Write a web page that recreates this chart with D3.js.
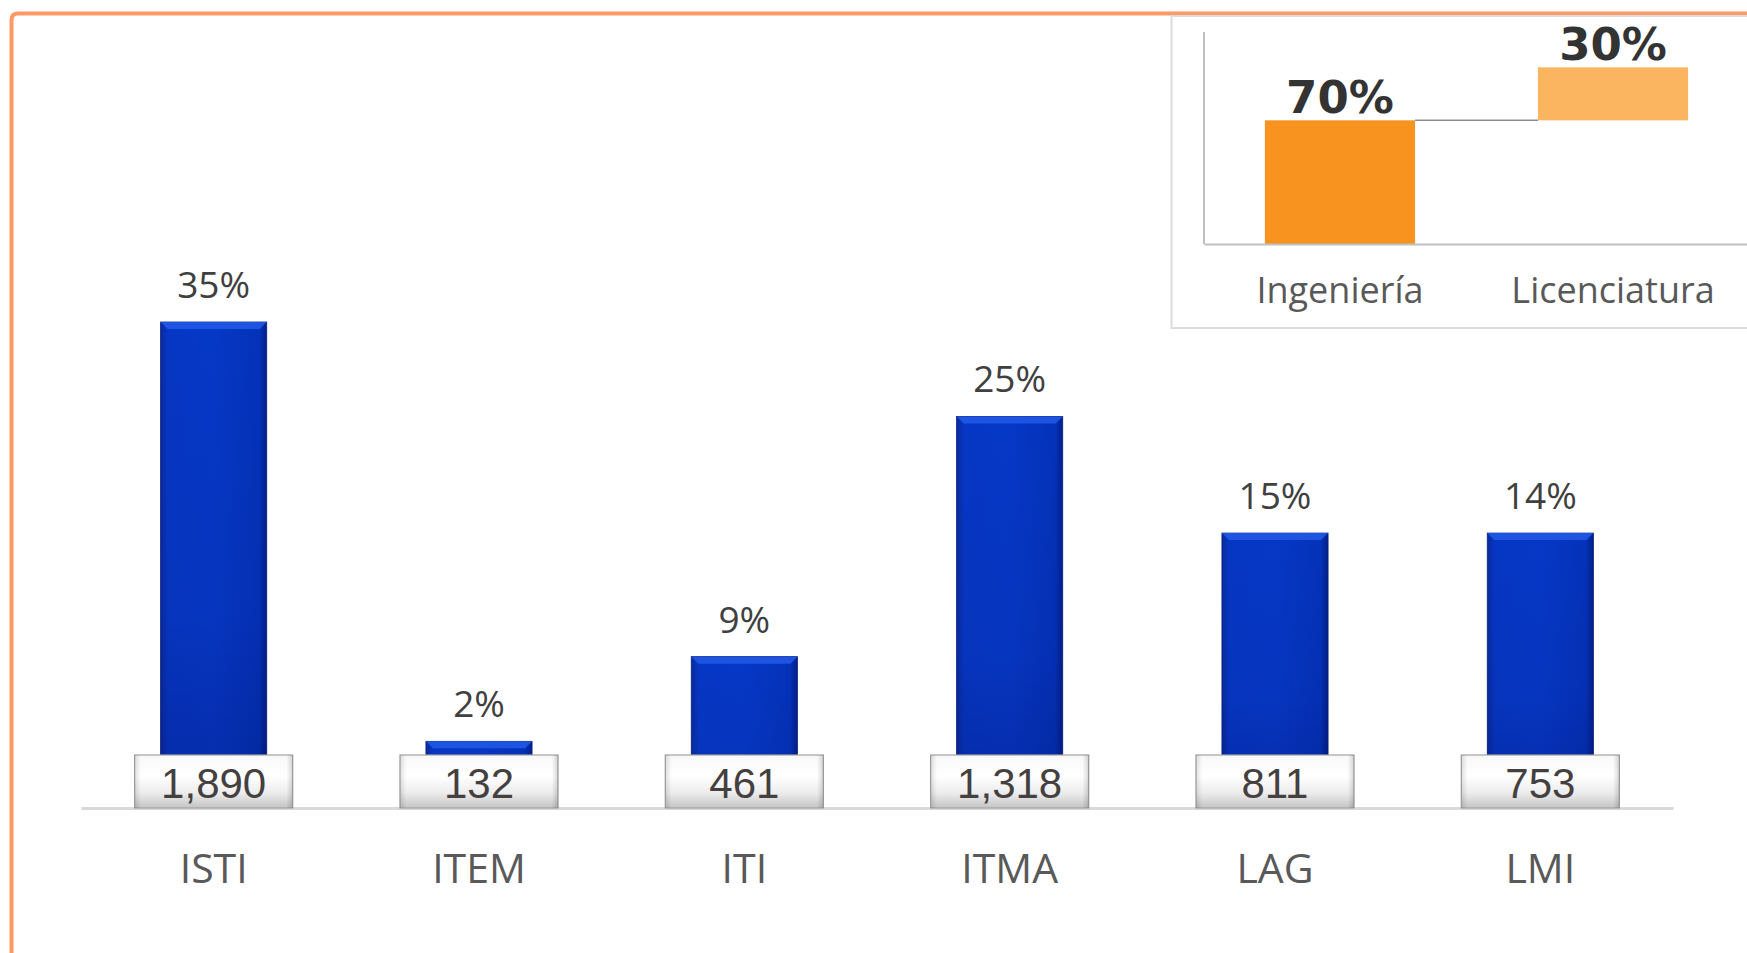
<!DOCTYPE html>
<html>
<head>
<meta charset="utf-8">
<script src="https://cdn.jsdelivr.net/npm/d3@7"></script>
<style>
  html, body { margin: 0; padding: 0; background: #ffffff; }
  svg { display: block; }
</style>
</head>
<body>
<svg id="chart" width="1747" height="953"></svg>
<script>
// ---------- data ----------
const categories = ["ISTI", "ITEM", "ITI", "ITMA", "LAG", "LMI"];
const students = [1890, 132, 461, 1318, 811, 753];
const shareLabels = ["35%", "2%", "9%", "25%", "15%", "14%"];
// bar lengths as drawn in the picture (percent-like units)
const barLengths = [35, 4.8, 10.9, 28.2, 19.8, 19.8];

const typeNames = ["Ingeniería", "Licenciatura"];
const typeShares = [70, 30];
const typeLabels = ["70%", "30%"];

// ---------- setup ----------
const svg = d3.select("#chart");
const defs = svg.append("defs");

const barGrad = defs.append("linearGradient").attr("id", "barGrad")
  .attr("x1", "0%").attr("x2", "100%").attr("y1", "0%").attr("y2", "0%");
[["0%", "#0a2a9c"], ["7%", "#0637c4"], ["50%", "#0638c6"], ["93%", "#0432b9"], ["100%", "#031f88"]]
  .forEach(([o, c]) => barGrad.append("stop").attr("offset", o).attr("stop-color", c));

const barShade = defs.append("linearGradient").attr("id", "barShade")
  .attr("x1", "0%").attr("x2", "0%").attr("y1", "0%").attr("y2", "100%");
[["0%", "rgba(0,0,60,0)"], ["60%", "rgba(0,0,60,0.05)"], ["100%", "rgba(0,0,60,0.22)"]]
  .forEach(([o, c]) => barShade.append("stop").attr("offset", o).attr("stop-color", c));

const boxGrad = defs.append("linearGradient").attr("id", "boxGrad")
  .attr("x1", "0%").attr("x2", "0%").attr("y1", "0%").attr("y2", "100%");
[["0%", "#f8f8f8"], ["40%", "#ffffff"], ["72%", "#ececec"], ["100%", "#c4c4c4"]]
  .forEach(([o, c]) => boxGrad.append("stop").attr("offset", o).attr("stop-color", c));

const boxSide = defs.append("linearGradient").attr("id", "boxSide")
  .attr("x1", "0%").attr("x2", "100%").attr("y1", "0%").attr("y2", "0%");
[["0%", "rgba(0,0,0,0.12)"], ["4%", "rgba(0,0,0,0)"], ["96%", "rgba(0,0,0,0)"], ["100%", "rgba(0,0,0,0.16)"]]
  .forEach(([o, c]) => boxSide.append("stop").attr("offset", o).attr("stop-color", c));

// ---------- orange frame ----------
svg.append("path")
  .attr("d", "M11.5,953 L11.5,20 Q11.5,13.5 18,13.5 L1747,13.5")
  .attr("fill", "none").attr("stroke", "#ff9a66").attr("stroke-width", 4);

// ---------- main chart ----------
const x = d3.scaleBand().domain(categories).range([81, 1673])
  .paddingInner(0.6).paddingOuter(0.3);
const y = d3.scaleLinear().domain([0, 35]).range([808, 322]);

const data = categories.map((c, i) => ({
  cat: c, n: students[i], pct: shareLabels[i], len: barLengths[i]
}));

const bw = x.bandwidth();

// bars
const bars = svg.append("g");
bars.selectAll("rect.bar").data(data).join("rect")
  .attr("class", "bar")
  .attr("x", d => x(d.cat)).attr("y", d => y(d.len))
  .attr("width", bw).attr("height", d => y(0) - y(d.len))
  .attr("fill", "url(#barGrad)")
  .attr("stroke", "#0a1f80").attr("stroke-width", 0.8);
bars.selectAll("rect.shade").data(data).join("rect")
  .attr("class", "shade")
  .attr("x", d => x(d.cat)).attr("y", d => y(d.len))
  .attr("width", bw).attr("height", d => y(0) - y(d.len))
  .attr("fill", "url(#barShade)");
// top bevel
bars.selectAll("path.bevel").data(data).join("path")
  .attr("class", "bevel")
  .attr("d", d => {
    const x0 = x(d.cat), x1 = x0 + bw, t = y(d.len), b = 7;
    return `M${x0},${t} L${x1},${t} L${x1 - b},${t + b} L${x0 + b},${t + b} Z`;
  })
  .attr("fill", "#2158e6").attr("opacity", 0.9);

// axis
const xAxis = d3.axisBottom(x).tickSize(0).tickPadding(46);
const ax = svg.append("g").attr("transform", `translate(0,${y(0)})`).call(xAxis);
ax.select(".domain").attr("stroke", "#d9d9d9").attr("stroke-width", 3);
ax.selectAll("text")
  .attr("font-family", "'Open Sans', 'Noto Sans', sans-serif")
  .attr("font-size", 41).attr("fill", "#595959");

// value boxes
const boxW = x.step() * 0.596, boxH = 53;
const boxes = svg.append("g");
boxes.selectAll("rect.box").data(data).join("rect")
  .attr("class", "box")
  .attr("x", d => x(d.cat) + bw / 2 - boxW / 2).attr("y", y(0) - boxH)
  .attr("width", boxW).attr("height", boxH)
  .attr("fill", "url(#boxGrad)").attr("stroke", "#a3a3a3").attr("stroke-width", 1.2);
boxes.selectAll("rect.side").data(data).join("rect")
  .attr("class", "side")
  .attr("x", d => x(d.cat) + bw / 2 - boxW / 2).attr("y", y(0) - boxH)
  .attr("width", boxW).attr("height", boxH)
  .attr("fill", "url(#boxSide)");
boxes.selectAll("text").data(data).join("text")
  .attr("x", d => x(d.cat) + bw / 2).attr("y", y(0) - 10)
  .attr("text-anchor", "middle")
  .attr("font-family", "'Liberation Sans', Arial, sans-serif")
  .attr("font-size", 42).attr("fill", "#454040")
  .text(d => d3.format(",")(d.n));

// percent labels
svg.append("g").selectAll("text").data(data).join("text")
  .attr("x", d => x(d.cat) + bw / 2).attr("y", d => y(d.len) - 24)
  .attr("text-anchor", "middle")
  .attr("font-family", "'Open Sans', 'Noto Sans', sans-serif")
  .attr("font-size", 37).attr("fill", "#404040")
  .text(d => d.pct);

// ---------- inset waterfall ----------
const inset = svg.append("g");
inset.append("rect")
  .attr("x", 1171.5).attr("y", 16).attr("width", 600).attr("height", 312)
  .attr("fill", "#ffffff").attr("stroke", "#dcdcdc").attr("stroke-width", 2);

const ix = d3.scaleBand().domain(typeNames).range([1204, 1749])
  .paddingInner(0.45).paddingOuter(0.223);
const iy = d3.scaleLinear().domain([0, 120]).range([244, 32]);

let cum = 0;
const steps = typeNames.map((n, i) => {
  const s = { name: n, from: cum, to: cum + typeShares[i], label: typeLabels[i] };
  cum += typeShares[i];
  return s;
});
const typeColors = ["#f7931e", "#fbb45f"];

// axes lines
inset.append("line").attr("x1", ix.range()[0]).attr("x2", ix.range()[0])
  .attr("y1", iy(120)).attr("y2", iy(0))
  .attr("stroke", "#bfbfbf").attr("stroke-width", 2);

inset.selectAll("rect.wf").data(steps).join("rect")
  .attr("class", "wf")
  .attr("x", d => ix(d.name)).attr("y", d => iy(d.to))
  .attr("width", ix.bandwidth()).attr("height", d => iy(d.from) - iy(d.to))
  .attr("fill", (d, i) => typeColors[i]);

// connector
inset.append("line")
  .attr("x1", ix(typeNames[0]) + ix.bandwidth()).attr("x2", ix(typeNames[1]))
  .attr("y1", iy(steps[0].to)).attr("y2", iy(steps[0].to))
  .attr("stroke", "#8c8c8c").attr("stroke-width", 1.5);

const iAxis = d3.axisBottom(ix).tickSize(0).tickPadding(33);
const iax = inset.append("g").attr("transform", `translate(0,${iy(0)})`).call(iAxis);
iax.select(".domain").attr("stroke", "#bfbfbf").attr("stroke-width", 2);
iax.selectAll("text")
  .attr("font-family", "'Open Sans', 'Noto Sans', sans-serif")
  .attr("font-size", 36).attr("fill", "#595959");

inset.selectAll("text.wl").data(steps).join("text")
  .attr("class", "wl")
  .attr("x", d => ix(d.name) + ix.bandwidth() / 2).attr("y", d => iy(d.to) - 7)
  .attr("text-anchor", "middle")
  .attr("font-family", "'DejaVu Sans', Verdana, sans-serif")
  .attr("font-weight", "bold")
  .attr("font-size", 45).attr("fill", "#333333")
  .text(d => d.label);
</script>
</body>
</html>
